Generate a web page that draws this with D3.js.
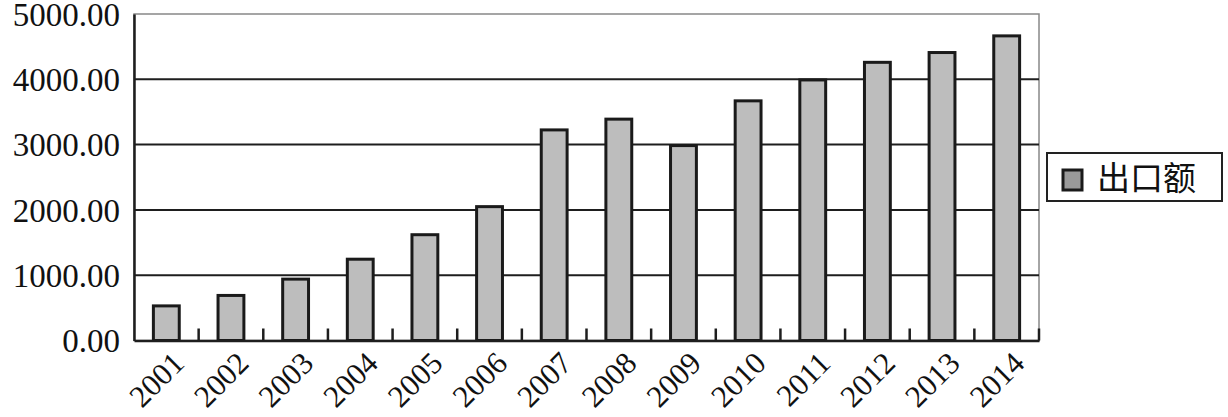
<!DOCTYPE html>
<html><head><meta charset="utf-8">
<script src="https://cdn.jsdelivr.net/npm/d3@7"></script>
<style>body{margin:0;background:#fff}svg{display:block}</style>
</head><body><svg id="c" width="1228" height="417"></svg>
<script>
const years = ["2001","2002","2003","2004","2005","2006","2007","2008","2009","2010","2011","2012","2013","2014"];
const exportValues = [530, 690, 940, 1245, 1620, 2050, 3225, 3390, 2985, 3670, 3990, 4260, 4410, 4665];
const yTicks = [0, 1000, 2000, 3000, 4000, 5000];
const seriesName = "出口额";

const svg = d3.select("#c");
const pL = 134, pR = 1039, pT = 14, pB = 340.5;
const x = d3.scaleBand().domain(years).range([pL, pR]).padding(0);
const y = d3.scaleLinear().domain([0, 5000]).range([pB, pT]);

// plot border (light gray)
svg.append("rect").attr("x", pL).attr("y", pT).attr("width", pR-pL).attr("height", pB-pT)
  .attr("fill", "none").attr("stroke", "#888").attr("stroke-width", 1.5);

// gridlines
svg.append("g").selectAll("line").data(yTicks.filter(d => d > 0 && d < 5000)).join("line")
  .attr("x1", pL).attr("x2", pR).attr("y1", d => y(d)).attr("y2", d => y(d))
  .attr("stroke", "#1e1e1e").attr("stroke-width", 2);

// bars
const bw = x.bandwidth() * 0.4;
svg.append("g").selectAll("rect").data(years).join("rect")
  .attr("x", d => x(d) + (x.bandwidth() - bw) / 2)
  .attr("y", (d, i) => y(exportValues[i]))
  .attr("width", bw)
  .attr("height", (d, i) => pB - y(exportValues[i]))
  .attr("fill", "#bdbdbd").attr("stroke", "#1a1a1a").attr("stroke-width", 3);

// y axis
const yAxis = d3.axisLeft(y).tickValues(yTicks).tickFormat(d3.format(".2f")).tickSize(0).tickPadding(14);
const gy = svg.append("g").attr("transform", `translate(${pL},0)`).call(yAxis);
gy.select(".domain").attr("stroke", "#1e1e1e").attr("stroke-width", 2.5);
gy.selectAll("text").attr("font-family", "'Liberation Serif', serif").attr("font-size", 33).attr("fill", "#111")
  .attr("dy", "0.34em");

// x axis
const xAxis = d3.axisBottom(x).tickSize(0).tickFormat(d => d);
const gx = svg.append("g").attr("transform", `translate(0,${pB})`).call(xAxis);
gx.select(".domain").attr("stroke", "#1e1e1e").attr("stroke-width", 2.5);
gx.selectAll(".tick text")
  .attr("font-family", "'Liberation Serif', serif").attr("font-size", 31).attr("fill", "#111")
  .attr("text-anchor", "end")
  .attr("transform", "translate(4,9) rotate(-45)")
  .attr("dy", "0.71em").attr("y", 0);

// inner boundary ticks
const bounds = years.slice(1).map(d => x(d)).concat([pR]);
svg.append("g").selectAll("line").data(bounds).join("line")
  .attr("x1", d => d).attr("x2", d => d).attr("y1", pB).attr("y2", pB - 12)
  .attr("stroke", "#1e1e1e").attr("stroke-width", 2.5);

// legend
const lg = svg.append("g");
lg.append("rect").attr("x", 1047).attr("y", 153).attr("width", 175).attr("height", 48)
  .attr("fill", "#fff").attr("stroke", "#222").attr("stroke-width", 2);
lg.append("rect").attr("x", 1063).attr("y", 170).attr("width", 19).attr("height", 20)
  .attr("fill", "#9a9a9a").attr("stroke", "#1a1a1a").attr("stroke-width", 3);
lg.append("text").attr("x", 1097).attr("y", 190).text(seriesName)
  .attr("font-family", "'Noto Sans CJK SC', sans-serif").attr("font-size", 33).attr("fill", "#111");
</script></body></html>
